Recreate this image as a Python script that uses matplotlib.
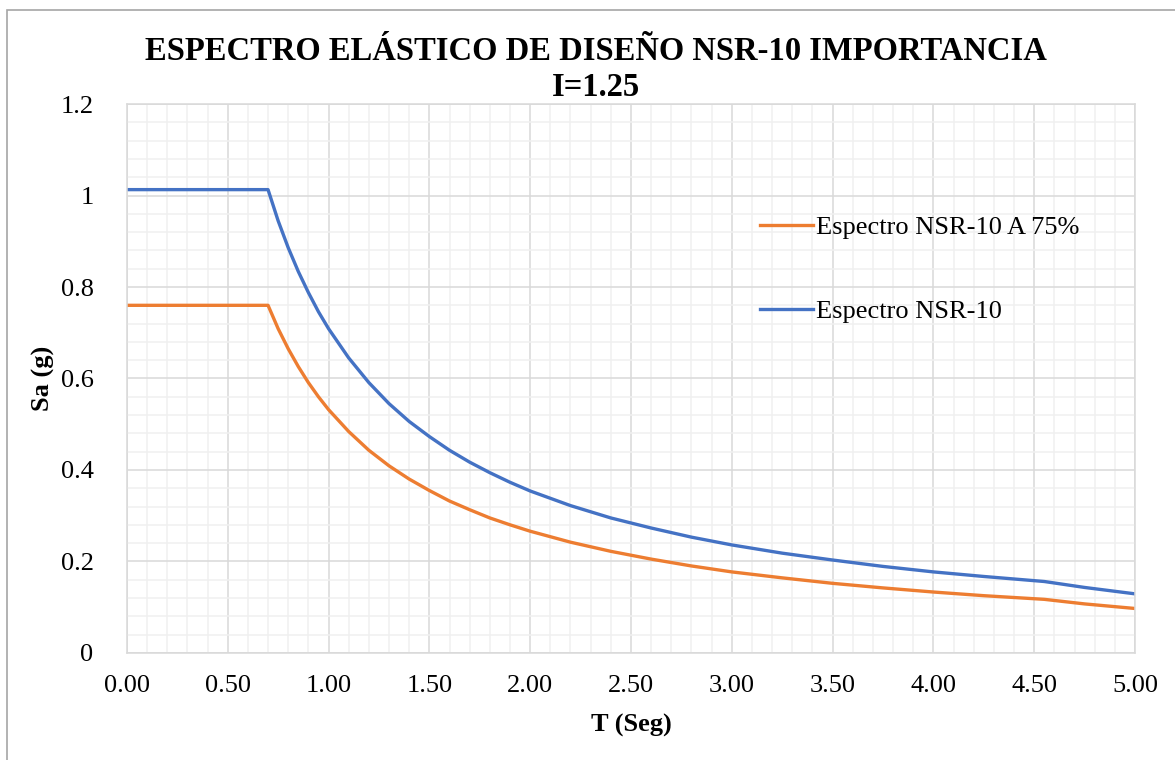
import matplotlib
matplotlib.use('Agg')
import matplotlib.pyplot as plt
from matplotlib.patches import Rectangle
from matplotlib.ticker import MultipleLocator, FormatStrFormatter

# datos (T en segundos, Sa en g)
T = [0.00, 0.70, 0.75, 0.80, 0.85, 0.90, 0.95, 1.00, 1.10, 1.20, 1.30, 1.40,
     1.50, 1.60, 1.70, 1.80, 1.90, 2.00, 2.20, 2.40, 2.60, 2.80, 3.00, 3.25,
     3.50, 3.75, 4.00, 4.25, 4.55, 4.75, 5.00]
sa_nsr10 = [1.013, 1.013, 0.945, 0.886, 0.834, 0.788, 0.746, 0.709, 0.645,
            0.591, 0.545, 0.506, 0.473, 0.443, 0.417, 0.394, 0.373, 0.354,
            0.322, 0.295, 0.273, 0.253, 0.236, 0.218, 0.203, 0.189, 0.177,
            0.167, 0.156, 0.143, 0.129]
sa_75 = [0.760, 0.760, 0.709, 0.665, 0.626, 0.591, 0.560, 0.532, 0.484,
         0.443, 0.409, 0.380, 0.355, 0.332, 0.313, 0.295, 0.280, 0.266,
         0.242, 0.222, 0.205, 0.190, 0.177, 0.164, 0.152, 0.142, 0.133,
         0.125, 0.117, 0.107, 0.097]

serif = ['Liberation Serif', 'DejaVu Serif']
plt.rcParams['font.family'] = serif

fig = plt.figure(figsize=(11.75, 7.6), dpi=100)
ax = fig.add_axes([0.108, 0.141, 0.858, 0.722])

# borde del area del grafico
fig.patches.append(Rectangle((7/1175, -0.01), 1.1, 750/760 + 0.01,
                             transform=fig.transFigure, fill=False,
                             edgecolor='#A6A6A6', linewidth=1.2))

l1, = ax.plot(T, sa_75, color='#ED7D31', lw=2.4, solid_joinstyle='round')
l2, = ax.plot(T, sa_nsr10, color='#4472C4', lw=2.4, solid_joinstyle='round')

ax.set_xlim(0, 5)
ax.set_ylim(0, 1.2)
ax.xaxis.set_major_locator(MultipleLocator(0.5))
ax.xaxis.set_minor_locator(MultipleLocator(0.1))
ax.yaxis.set_major_locator(MultipleLocator(0.2))
ax.yaxis.set_minor_locator(MultipleLocator(0.04))
ax.xaxis.set_major_formatter(FormatStrFormatter('%.2f'))
ax.yaxis.set_major_formatter(plt.FuncFormatter(lambda v, p: ('%.1f' % v).rstrip('0').rstrip('.') if v else '0'))

ax.grid(which='major', color='#D9D9D9', lw=1.1)
ax.grid(which='minor', color='#F0F0F0', lw=1.1)
ax.set_axisbelow(True)
for s in ax.spines.values():
    s.set_color('#D9D9D9')
    s.set_linewidth(1.1)
ax.tick_params(which='both', length=0, labelsize=19, colors='black')
ax.tick_params(axis='x', pad=16)
ax.tick_params(axis='y', pad=24)

ax.set_xlabel('T (Seg)', fontsize=19, fontweight='bold', labelpad=12)
ax.set_ylabel('Sa (g)', fontsize=19, fontweight='bold')
ax.yaxis.set_label_coords(-0.071, 0.5)

fig.text(0.507, 0.932, 'ESPECTRO ELÁSTICO DE DISEÑO NSR-10 IMPORTANCIA',
         ha='center', va='center', fontsize=23.5, fontweight='bold')
fig.text(0.507, 0.885, 'I=1.25', ha='center', va='center', fontsize=23.5,
         fontweight='bold')

ax.legend([l1, l2], ['Espectro NSR-10 A 75%', 'Espectro NSR-10'],
          loc='upper left', bbox_to_anchor=(736/1175, 1 - 192/760),
          bbox_transform=fig.transFigure, frameon=False, fontsize=19,
          handlelength=2.0, handletextpad=0.15, labelspacing=2.3)

fig.savefig('out.png', dpi=100)
